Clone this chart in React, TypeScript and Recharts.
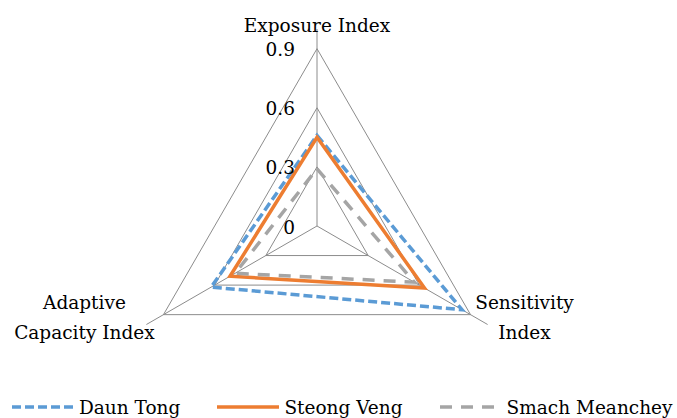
import { RadarChart, Radar, PolarGrid, PolarAngleAxis, PolarRadiusAxis, Legend } from "recharts";

const categories = ["Exposure Index", "Sensitivity Index", "Adaptive Capacity Index"];
const categoryLines = [["Exposure Index"], ["Sensitivity", "Index"], ["Adaptive", "Capacity Index"]];
const daunTong = [0.46, 0.85, 0.62];
const steongVeng = [0.45, 0.63, 0.51];
const smachMeanchey = [0.29, 0.57, 0.48];
const radiusDomain = [0, 1];
const radiusTicks = [0, 0.3, 0.6, 0.9];
const radiusTickLabels = ["0", "0.3", "0.6", "0.9"];

const FONT = '"DejaVu Serif", "Liberation Serif", serif';
const FS = 18.5;

const series = [
  { key: "daunTong", name: "Daun Tong", color: "#5B9BD5", dash: "9 4" },
  { key: "steongVeng", name: "Steong Veng", color: "#ED7D31", dash: undefined },
  { key: "smachMeanchey", name: "Smach Meanchey", color: "#A5A5A5", dash: "12 9" },
];

const data = categories.map((c, i) => ({
  category: c,
  daunTong: daunTong[i],
  steongVeng: steongVeng[i],
  smachMeanchey: smachMeanchey[i],
}));

// eslint-disable-next-line @typescript-eslint/no-explicit-any
function AngleTick(props: any) {
  const { x, y, payload, textAnchor } = props;
  const idx = categories.indexOf(payload.value);
  const lines = categoryLines[idx] ?? [payload.value];
  let cx = x;
  if (textAnchor === "start") cx = x + 30;
  if (textAnchor === "end") cx = x - 55;
  const startY = lines.length === 1 ? y + 4 : y - 26;
  return (
    <g>
      {lines.map((l, i) => (
        <text
          key={l}
          x={cx}
          y={startY + i * 30}
          textAnchor="middle"
          dominantBaseline="central"
          fill="#000"
          fontFamily={FONT}
          fontSize={FS}
        >
          {l}
        </text>
      ))}
    </g>
  );
}

// eslint-disable-next-line @typescript-eslint/no-explicit-any
function RadiusTick(props: any) {
  const { x, y, payload } = props;
  const i = radiusTicks.indexOf(payload.value);
  return (
    <text
      x={x - 22}
      y={y + 1}
      textAnchor="end"
      dominantBaseline="central"
      fill="#000"
      fontFamily={FONT}
      fontSize={FS}
    >
      {i >= 0 ? radiusTickLabels[i] : payload.value}
    </text>
  );
}

function LegendContent() {
  return (
    <div
      style={{
        display: "flex",
        alignItems: "center",
        height: 22,
        paddingLeft: 11,
        fontFamily: FONT,
        fontSize: FS,
        color: "#000",
        whiteSpace: "nowrap",
      }}
    >
      {series.map((s, i) => (
        <div key={s.key} style={{ display: "flex", alignItems: "center", marginLeft: i === 0 ? 0 : 36 }}>
          <svg width={64} height={10} style={{ marginRight: 4 }}>
            <line
              x1={1}
              y1={5}
              x2={63}
              y2={5}
              stroke={s.color}
              strokeWidth={3.5}
              strokeDasharray={s.dash}
            />
          </svg>
          <span>{s.name}</span>
        </div>
      ))}
    </div>
  );
}

export default function App() {
  return (
    <div style={{ position: "absolute", left: 0, top: 0, width: 677, height: 418, background: "#fff" }}>
      <RadarChart
        width={677}
        height={418}
        data={data}
        cx={317}
        cy={226}
        outerRadius={197}
        margin={{ top: 0, right: 0, bottom: 0, left: 0 }}
      >
        <PolarGrid gridType="polygon" stroke="#8c8c8c" strokeWidth={1} />
        <PolarAngleAxis dataKey="category" tick={<AngleTick />} tickLine={false} axisLine={false} />
        <PolarRadiusAxis
          angle={90}
          type="number"
          domain={radiusDomain}
          ticks={radiusTicks}
          tick={<RadiusTick />}
          axisLine={false}
          tickLine={false}
        />
        {series.map((s) => (
          <Radar
            key={s.key}
            name={s.name}
            dataKey={s.key}
            stroke={s.color}
            strokeWidth={3.5}
            strokeDasharray={s.dash}
            fill="none"
            fillOpacity={0}
            dot={false}
            isAnimationActive={false}
          />
        ))}
        <Legend verticalAlign="bottom" content={<LegendContent />} wrapperStyle={{ bottom: 0 }} />
      </RadarChart>
    </div>
  );
}
